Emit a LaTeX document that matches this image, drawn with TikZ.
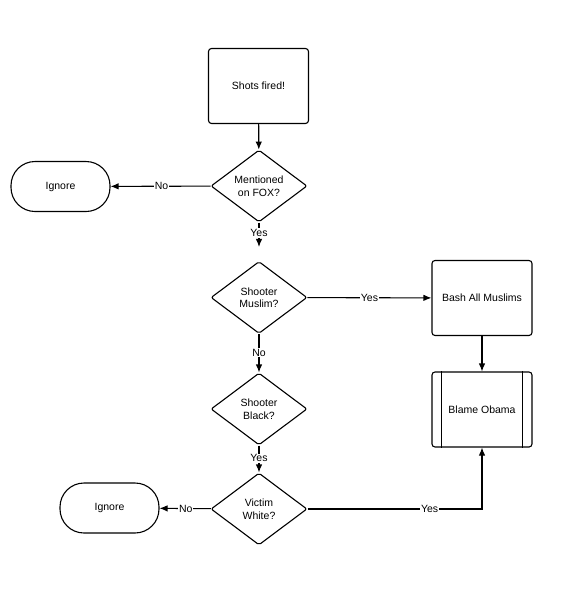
\documentclass[tikz,border=0pt]{standalone}
\usepackage{fontspec}
\setmainfont{Liberation Sans}
\usetikzlibrary{shapes.geometric,arrows.meta}
\begin{document}
\begin{tikzpicture}[x=1pt,y=-1pt,
  every node/.style={font=\fontsize{10.5}{12.5}\selectfont},
  boxnode/.style={draw,line width=1.1pt,rounded corners=3pt,minimum width=100pt,minimum height=75pt,inner sep=2pt},
  termnode/.style={draw,line width=1.1pt,rounded corners=24pt,minimum width=99pt,minimum height=50pt},
  decnode/.style={draw,line width=1.1pt,diamond,aspect=1.333,rounded corners=2pt,minimum width=96pt,minimum height=72pt,inner sep=0pt,align=center},
  conn/.style={line width=1.1pt,-{Latex[length=8pt,width=6.5pt]}},
  lbl/.style={fill=white,inner sep=1pt}]
\useasboundingbox (0,0) rectangle (567,595);
\node[boxnode] (shots) at (258.5,86) {Shots fired!};
\node[decnode] (fox) at (259,186) {Mentioned\\on FOX?};
\node[termnode] (ign1) at (60.5,186.5) {Ignore};
\node[decnode] (muslim) at (259,297.5) {Shooter\\Muslim?};
\node[boxnode] (bash) at (482,298) {Bash All Muslims};
\node[boxnode] (obama) at (482,409.5) {Blame Obama};
\draw[line width=1.1pt] ([xshift=10pt]obama.north west) -- ([xshift=10pt]obama.south west);
\draw[line width=1.1pt] ([xshift=-10pt]obama.north east) -- ([xshift=-10pt]obama.south east);
\node[decnode] (black) at (259,409) {Shooter\\Black?};
\node[decnode] (white) at (259,509) {Victim\\White?};
\node[termnode] (ign2) at (109.5,508) {Ignore};
\coordinate (corner) at (obama.south |- white.east);

\draw[conn] (shots) -- (fox);
\draw[conn] (fox) -- node[lbl,pos=0.49] {No} (ign1);
\draw[conn,shorten >=14pt] (fox) -- node[lbl,pos=0.27] {Yes} (muslim);
\draw[conn] (muslim) -- node[lbl,pos=0.5] {Yes} (bash);
\draw[conn] (muslim) -- node[lbl,pos=0.48] {No} (black);
\draw[conn] (bash) -- (obama);
\draw[conn] (black) -- node[lbl,pos=0.47] {Yes} (white);
\draw[conn] (white) -- node[lbl,pos=0.49] {No} (ign2);
\draw[conn] (white.east) -- node[lbl,pos=0.7] {Yes} (corner) -- (obama.south);
\end{tikzpicture}
\end{document}
